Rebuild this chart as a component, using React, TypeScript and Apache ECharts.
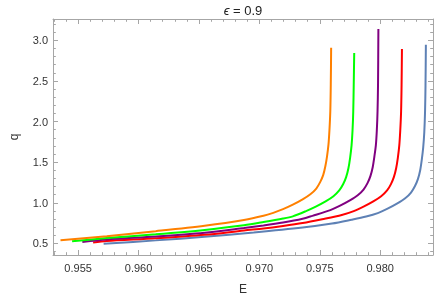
import React, { useEffect, useRef } from "react";
import * as echarts from "echarts";

// ---- data ----
const E_BLUE = [0.95711, 0.96142, 0.96547, 0.96953, 0.97358, 0.97601, 0.97763, 0.97884, 0.97980, 0.98061, 0.98142, 0.98207, 0.98255, 0.98288, 0.98312, 0.98331, 0.98344, 0.98356, 0.98365, 0.98371, 0.98375, 0.98378];
const Q_BLUE = [0.494, 0.537, 0.581, 0.634, 0.695, 0.744, 0.791, 0.830, 0.872, 0.927, 0.992, 1.055, 1.126, 1.206, 1.291, 1.401, 1.529, 1.682, 1.871, 2.115, 2.445, 2.945];

const E_RED = [0.95624, 0.95737, 0.96142, 0.96547, 0.96872, 0.97034, 0.97196, 0.97358, 0.97520, 0.97682, 0.97781, 0.97862, 0.97943, 0.98008, 0.98057, 0.98089, 0.98113, 0.98132, 0.98146, 0.98158, 0.98166, 0.98173, 0.98177, 0.98180];
const Q_RED = [0.510, 0.528, 0.562, 0.605, 0.659, 0.683, 0.714, 0.750, 0.797, 0.849, 0.897, 0.952, 1.016, 1.080, 1.151, 1.230, 1.315, 1.425, 1.553, 1.706, 1.889, 2.127, 2.457, 2.893];

const E_PURPLE = [0.95535, 0.95737, 0.96142, 0.96547, 0.96872, 0.97034, 0.97196, 0.97358, 0.97439, 0.97587, 0.97668, 0.97749, 0.97814, 0.97862, 0.97895, 0.97919, 0.97938, 0.97951, 0.97964, 0.97972, 0.97978, 0.97982, 0.97985];
const Q_PURPLE = [0.518, 0.549, 0.585, 0.632, 0.689, 0.720, 0.756, 0.803, 0.839, 0.909, 0.964, 1.029, 1.092, 1.163, 1.242, 1.328, 1.438, 1.560, 1.706, 1.889, 2.127, 2.457, 3.140];

const E_GREEN = [0.95450, 0.95737, 0.96142, 0.96547, 0.96872, 0.97034, 0.97196, 0.97277, 0.97386, 0.97467, 0.97548, 0.97613, 0.97661, 0.97694, 0.97718, 0.97737, 0.97751, 0.97763, 0.97771, 0.97777, 0.97781, 0.97785];
const Q_GREEN = [0.526, 0.565, 0.611, 0.665, 0.723, 0.762, 0.805, 0.833, 0.897, 0.952, 1.016, 1.080, 1.151, 1.230, 1.315, 1.425, 1.553, 1.706, 1.889, 2.127, 2.457, 2.844];

const E_ORANGE = [0.95354, 0.95737, 0.96142, 0.96547, 0.96872, 0.97034, 0.97115, 0.97196, 0.97277, 0.97358, 0.97422, 0.97471, 0.97503, 0.97528, 0.97546, 0.97560, 0.97572, 0.97580, 0.97587, 0.97591, 0.97594];
const Q_ORANGE = [0.540, 0.589, 0.650, 0.717, 0.787, 0.839, 0.876, 0.921, 0.976, 1.041, 1.104, 1.175, 1.254, 1.340, 1.450, 1.572, 1.718, 1.895, 2.127, 2.457, 2.908];

const X_MAJOR = [0.955, 0.96, 0.965, 0.97, 0.975, 0.98];
const Y_MAJOR = [0.5, 1.0, 1.5, 2.0, 2.5, 3.0];

const X_MIN = 0.95292;
const X_MAX = 0.98437;
const Y_MIN = 0.357;
const Y_MAX = 3.262;

function minorTicks(from: number, to: number, step: number, majors: number[]) {
  const out: number[] = [];
  for (let i = Math.round(from / step); i * step <= to + 1e-12; i++) {
    const v = +(i * step).toFixed(6);
    if (!majors.some((m) => Math.abs(m - v) < 1e-9)) out.push(v);
  }
  return out;
}

const X_MINOR = minorTicks(0.953, 0.984, 0.001, X_MAJOR);
const Y_MINOR = minorTicks(0.4, 3.2, 0.1, Y_MAJOR);

const FONT = "'Liberation Sans', Arial, sans-serif";
const FRAME = "#a6a6a6";
const LABEL = "#333333";

function pairs(xs: number[], ys: number[]) {
  return xs.map((x, i) => [x, ys[i]]);
}

export default function App() {
  const ref = useRef<HTMLDivElement>(null);
  useEffect(() => {
    if (!ref.current) return;
    const chart = echarts.init(ref.current, undefined, { renderer: "svg" });

    const xBase = (pos: "bottom" | "top", major: boolean, extra: any = {}) => ({
      type: "value",
      position: pos,
      min: X_MIN,
      max: X_MAX,
      splitLine: { show: false },
      axisLine: { show: major, onZero: false, lineStyle: { color: FRAME, width: 1 } },
      axisTick: {
        show: true,
        inside: true,
        length: major ? 5 : 2.8,
        customValues: major ? X_MAJOR : X_MINOR,
        lineStyle: { color: FRAME, width: 1 },
      },
      axisLabel: { show: false },
      ...extra,
    });
    const yBase = (pos: "left" | "right", major: boolean, extra: any = {}) => ({
      type: "value",
      position: pos,
      min: Y_MIN,
      max: Y_MAX,
      splitLine: { show: false },
      axisLine: { show: major, onZero: false, lineStyle: { color: FRAME, width: 1 } },
      axisTick: {
        show: true,
        inside: true,
        length: major ? 5 : 2.8,
        customValues: major ? Y_MAJOR : Y_MINOR,
        lineStyle: { color: FRAME, width: 1 },
      },
      axisLabel: { show: false },
      ...extra,
    });

    const line = (name: string, color: string, xs: number[], ys: number[]) => ({
      type: "line",
      name,
      data: pairs(xs, ys),
      showSymbol: false,
      smooth: 0.3,
      lineStyle: { color, width: 2 },
      xAxisIndex: 0,
      yAxisIndex: 0,
    });

    chart.setOption({
      animation: false,
      textStyle: { fontFamily: FONT },
      title: {
        text: "{e|ϵ} = 0.9",
        left: 238,
        top: -1,
        textAlign: "center",
        textStyle: {
          fontFamily: FONT,
          fontSize: 13,
          fontWeight: "normal",
          color: "#222",
          rich: { e: { fontFamily: FONT, fontSize: 13, fontStyle: "italic", color: "#222" } },
        },
      },
      grid: { left: 45, right: 3, top: 19, bottom: 43 },
      xAxis: [
        xBase("bottom", true, {
          name: "E",
          nameLocation: "middle",
          nameGap: 28,
          nameTextStyle: { fontFamily: FONT, fontSize: 12, color: LABEL },
          axisLabel: {
            show: true,
            customValues: X_MAJOR,
            margin: 7,
            fontFamily: FONT,
            fontSize: 11,
            color: LABEL,
            formatter: (v: number) => v.toFixed(3),
          },
        }),
        xBase("bottom", false),
        xBase("top", true),
        xBase("top", false),
      ],
      yAxis: [
        yBase("left", true, {
          name: "q",
          nameLocation: "middle",
          nameGap: 33,
          nameRotate: 90,
          nameTextStyle: { fontFamily: FONT, fontSize: 12, color: LABEL },
          axisLabel: {
            show: true,
            customValues: Y_MAJOR,
            margin: 5,
            fontFamily: FONT,
            fontSize: 11,
            color: LABEL,
            formatter: (v: number) => v.toFixed(1),
          },
        }),
        yBase("left", false),
        yBase("right", true),
        yBase("right", false),
      ],
      series: [
        line("blue", "#5E81B5", E_BLUE, Q_BLUE),
        line("red", "#FF0000", E_RED, Q_RED),
        line("purple", "#800080", E_PURPLE, Q_PURPLE),
        line("green", "#00FF00", E_GREEN, Q_GREEN),
        line("orange", "#FF8000", E_ORANGE, Q_ORANGE),
      ],
    });
    return () => chart.dispose();
  }, []);
  return <div ref={ref} style={{ position: "fixed", left: 0, top: 0, width: 436, height: 300 }} />;
}
